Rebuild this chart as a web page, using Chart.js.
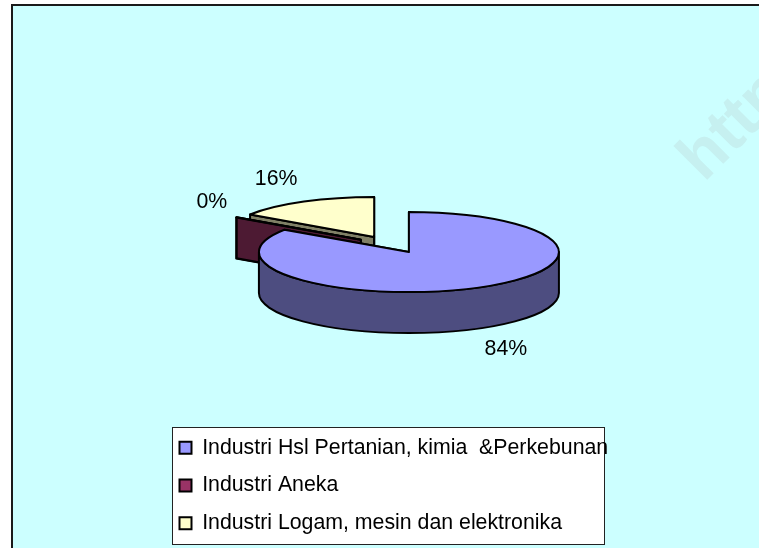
<!DOCTYPE html>
<html><head><meta charset="utf-8">
<style>html,body{margin:0;padding:0;background:#fff}canvas{display:block}</style>
<script src="https://cdn.jsdelivr.net/npm/chart.js@4"></script>
</head><body>
<div style="width:759px;height:548px;position:relative"><canvas id="c" width="759" height="548"></canvas></div>
<script>
const categories = ["Industri Hsl Pertanian, kimia  &Perkebunan", "Industri Aneka", "Industri Logam, mesin dan elektronika"];
const values = [84.4, 0.09, 15.51];
const topColors = ["#9999FF", "#993366", "#FFFFCC"];
const wallColors = ["#4D4D80", "#4D1A33", "#808066"];
const labelNudges = [[97, 97], [-149, -38], [-98, -58]];
const drawOrder = [2, 1, 0];

const FONT = '"Liberation Sans", Arial, sans-serif';
const SQUASH = 40 / 150, EXPLODE_SQUASH = 0.232, DEPTH = 41, EXPLODE = 37;

const pie3d = {
  id: 'pie3d',
  beforeDraw(chart) {
    const c = chart.ctx;
    c.save();
    c.fillStyle = '#CCFFFF';
    c.fillRect(12, 5, 747, 543);
    c.save();
    c.beginPath(); c.rect(12, 5, 747, 543); c.clip();
    c.translate(704, 183);
    c.rotate(-Math.PI / 4);
    c.font = 'bold 66px ' + FONT;
    c.fillStyle = '#C6F0F0';
    c.textBaseline = 'alphabetic';
    c.fillText('http', 0, 0);
    c.restore();
    c.strokeStyle = '#1a1a1a';
    c.lineWidth = 2;
    c.beginPath();
    c.moveTo(12, 548); c.lineTo(12, 5); c.lineTo(759, 5);
    c.stroke();
    c.lineWidth = 1;
    c.strokeStyle = '#222';
    c.fillStyle = '#fff';
    c.fillRect(172.5, 427.5, 432, 117);
    c.strokeRect(172.5, 427.5, 432, 117);
    c.restore();
  },
  afterLayout(chart) {
    const l = chart.legend;
    const w = l.width, h = l.height;
    l.left = 163; l.top = 420.5; l.right = l.left + w; l.bottom = l.top + h;
  },
  beforeDatasetDraw(chart, args) {
    const c = chart.ctx;
    const arcs = chart.getDatasetMeta(args.index).data;
    for (const i of drawOrder) {
      const a = arcs[i];
      const s = a.startAngle, e = a.endAngle, r = a.outerRadius;
      const mid = (s + e) / 2;
      const sx = a.x + Math.cos(mid) * EXPLODE;
      const sy = a.y + Math.sin(mid) * EXPLODE * EXPLODE_SQUASH;
      const ry = r * SQUASH;
      const rim = t => [sx + Math.cos(t) * r, sy + Math.sin(t) * ry];
      c.save();
      c.lineJoin = 'round';
      c.strokeStyle = '#000';
      c.lineWidth = 2;
      c.fillStyle = wallColors[i];
      for (const t of [s, e]) {
        const [px, py] = rim(t);
        c.beginPath();
        c.moveTo(sx, sy); c.lineTo(px, py); c.lineTo(px, py + DEPTH); c.lineTo(sx, sy + DEPTH);
        c.closePath(); c.fill(); c.stroke();
      }
      const w0 = Math.max(s, 0), w1 = Math.min(e, Math.PI);
      if (w1 > w0) {
        c.beginPath();
        c.ellipse(sx, sy, r, ry, 0, w0, w1);
        c.ellipse(sx, sy + DEPTH, r, ry, 0, w1, w0, true);
        c.closePath(); c.fill(); c.stroke();
      }
      c.save();
      c.translate(sx, sy); c.scale(1, SQUASH); c.translate(-a.x, -a.y);
      a.draw(c);
      c.restore();
      c.beginPath();
      c.moveTo(sx, sy);
      c.ellipse(sx, sy, r, ry, 0, s, e);
      c.closePath(); c.stroke();
      c.restore();
    }
    return false;
  },
  afterDatasetsDraw(chart) {
    const c = chart.ctx;
    const arcs = chart.getDatasetMeta(0).data;
    const total = values.reduce((p, v) => p + v, 0);
    c.save();
    c.font = '21.3px ' + FONT;
    c.fillStyle = '#000';
    c.textAlign = 'center';
    c.textBaseline = 'middle';
    arcs.forEach((a, i) => {
      const mid = (a.startAngle + a.endAngle) / 2;
      const sx = a.x + Math.cos(mid) * EXPLODE;
      const sy = a.y + Math.sin(mid) * EXPLODE * EXPLODE_SQUASH;
      c.fillText(Math.round(values[i] / total * 100) + '%', sx + labelNudges[i][0], sy + labelNudges[i][1]);
    });
    c.restore();
  }
};

new Chart(document.getElementById('c'), {
  type: 'pie',
  data: { labels: categories, datasets: [{ data: values, backgroundColor: topColors, borderWidth: 0 }] },
  options: {
    responsive: false,
    animation: false,
    radius: 150,
    layout: { padding: { left: 24, right: 0, top: 0, bottom: 59 } },
    plugins: {
      tooltip: { enabled: false },
      legend: {
        position: 'chartArea',
        align: 'start',
        labels: {
          boxWidth: 12, boxHeight: 12, padding: 16.5,
          color: '#000',
          font: { family: FONT, size: 21.3 },
          generateLabels(chart) {
            return Chart.overrides.doughnut.plugins.legend.labels.generateLabels(chart)
              .map(it => Object.assign(it, { lineWidth: 2, strokeStyle: '#000' }));
          }
        }
      }
    }
  },
  plugins: [pie3d]
});
</script>
</body></html>
